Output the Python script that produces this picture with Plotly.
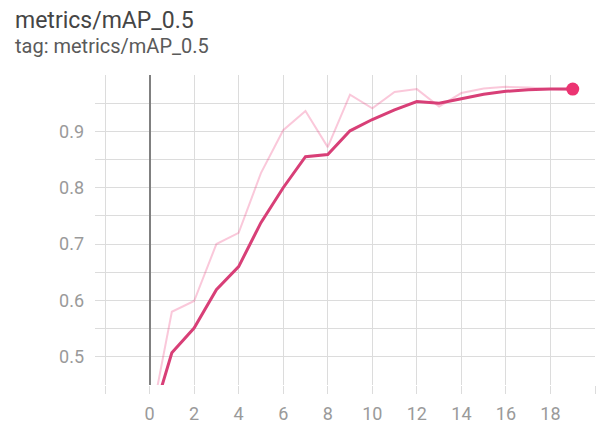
import plotly.graph_objects as go

steps = list(range(20))
raw_map = [0.375, 0.580, 0.599, 0.700, 0.720, 0.826, 0.902, 0.936, 0.872, 0.965,
           0.941, 0.970, 0.975, 0.944, 0.968, 0.976, 0.979, 0.978, 0.975, 0.974]
smoothed_map = [0.375, 0.507, 0.551, 0.619, 0.660, 0.738, 0.800, 0.855, 0.859, 0.901,
                0.921, 0.938, 0.953, 0.950, 0.958, 0.966, 0.971, 0.974, 0.975, 0.975]

title_text = "metrics/mAP_0.5"
tag_text = "tag: metrics/mAP_0.5"

x_ticks = list(range(-2, 21, 2))
x_labels = ["" if (v < 0 or v > 18) else str(v) for v in x_ticks]
y_ticks = [round(0.45 + 0.05 * i, 2) for i in range(12)]
y_labels = [("%.1f" % v) if (round(v * 100) % 10 == 0 and 0.5 <= v <= 0.9) else "" for v in y_ticks]

W, H = 596, 428
L, R, T, B = 95, 1, 75, 43
PW, PH = W - L - R, H - T - B

fig = go.Figure()
fig.add_trace(go.Scatter(x=steps, y=raw_map, mode="lines",
                         line=dict(color="rgba(238,51,119,0.27)", width=2),
                         hoverinfo="skip", showlegend=False))
fig.add_trace(go.Scatter(x=steps, y=smoothed_map, mode="lines",
                         line=dict(color="#d83f77", width=3),
                         showlegend=False))
fig.add_trace(go.Scatter(x=[steps[-1]], y=[smoothed_map[-1]], mode="markers",
                         marker=dict(color="#ec3472", size=13),
                         showlegend=False, cliponaxis=False))

fig.update_layout(
    width=W, height=H,
    margin=dict(l=L, r=R, t=T, b=B, autoexpand=False),
    paper_bgcolor="white", plot_bgcolor="white",
    font=dict(family="Roboto", color="#9a9a9a", size=18),
    annotations=[
        dict(text=title_text, xref="paper", yref="paper",
             x=(13 - L) / PW, y=1 + (T - 36) / PH,
             xanchor="left", yanchor="bottom", showarrow=False,
             font=dict(family="Roboto", size=23, color="#454545")),
        dict(text=tag_text, xref="paper", yref="paper",
             x=(13 - L) / PW, y=1 + (T - 60) / PH,
             xanchor="left", yanchor="bottom", showarrow=False,
             font=dict(family="Roboto", size=20, color="#5a5a5a")),
    ],
    xaxis=dict(range=[-2.45, 20.0], tickmode="array", tickvals=x_ticks, ticktext=x_labels,
               showgrid=True, gridcolor="#dcdcdc", gridwidth=1,
               ticks="outside", ticklen=8, tickcolor="#dcdcdc", tickwidth=1,
               zeroline=True, zerolinecolor="#808080", zerolinewidth=2,
               showline=False, fixedrange=True, automargin=False,
               ticklabelstandoff=4),
    yaxis=dict(range=[0.45, 1.0], tickmode="array", tickvals=y_ticks, ticktext=y_labels,
               showgrid=True, gridcolor="#dcdcdc", gridwidth=1,
               ticks="", zeroline=False, showline=False, ticklabelstandoff=10,
               fixedrange=True, automargin=False),
)

fig.write_html("out.html", config={"displayModeBar": False},
               post_script="document.body.style.margin='0';")
